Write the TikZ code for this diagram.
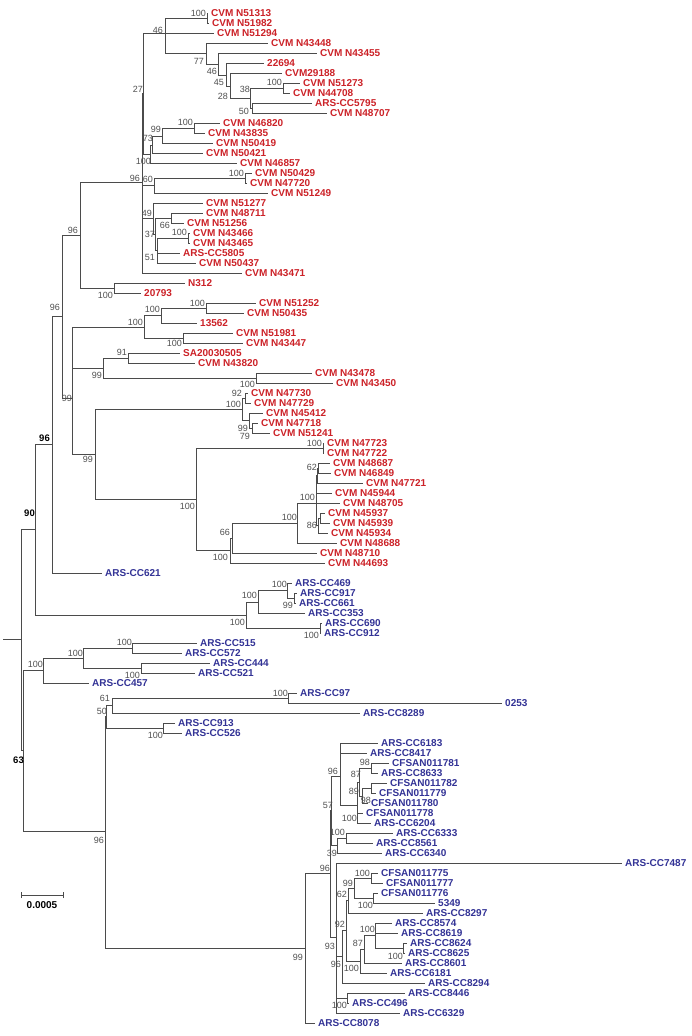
\documentclass[tikz,border=0pt]{standalone}
\usepackage{fontspec}
\setmainfont{Liberation Sans}
\definecolor{rd}{RGB}{204,34,40}
\definecolor{bl}{RGB}{51,51,150}
\definecolor{ln}{RGB}{75,75,75}
\definecolor{bsc}{RGB}{80,80,80}
\newcommand\TLeaf[5]{\coordinate (#1) at (#2,#3); \node[#5] (#1t) at (#2+3,#3) {#4};}
\newcommand\TNode[3]{\coordinate (#1) at (#2,#3);}
\newcommand\TEdges[2]{\foreach \c in {#2}{\draw[branch] (#1) |- (\c);}}
\newcommand\TBoot[5][bsl]{\node[#1] (bs#2) at (#3,#4) {#5};}
\begin{document}
\begin{tikzpicture}[x=1pt,y=-1pt,
 branch/.style={draw=ln,line width=0.85pt},
 leafR/.style={anchor=west,inner sep=0pt,text=rd,font=\fontsize{10}{12}\selectfont\bfseries},
 leafB/.style={anchor=west,inner sep=0pt,text=bl,font=\fontsize{10}{12}\selectfont\bfseries},
 bsl/.style={anchor=east,inner sep=0pt,text=bsc,font=\fontsize{9}{10}\selectfont},
 bsb/.style={anchor=east,inner sep=0pt,text=black,font=\fontsize{9.5}{10}\selectfont\bfseries}]
\useasboundingbox[fill=white] (0,0) rectangle (691,1036);
% ---------------- leaves ----------------
\TLeaf{L1}{208}{13}{CVM N51313}{leafR}
\TLeaf{L2}{209}{23}{CVM N51982}{leafR}
\TLeaf{L3}{214}{33}{CVM N51294}{leafR}
\TLeaf{L4}{268}{43}{CVM N43448}{leafR}
\TLeaf{L5}{317}{53}{CVM N43455}{leafR}
\TLeaf{L6}{264}{63}{22694}{leafR}
\TLeaf{L7}{282}{73}{CVM29188}{leafR}
\TLeaf{L8}{300}{83}{CVM N51273}{leafR}
\TLeaf{L9}{290}{93}{CVM N44708}{leafR}
\TLeaf{L10}{312}{103}{ARS-CC5795}{leafR}
\TLeaf{L11}{327}{113}{CVM N48707}{leafR}
\TLeaf{L12}{220}{123}{CVM N46820}{leafR}
\TLeaf{L13}{205}{133}{CVM N43835}{leafR}
\TLeaf{L14}{213}{143}{CVM N50419}{leafR}
\TLeaf{L15}{203}{153}{CVM N50421}{leafR}
\TLeaf{L16}{237}{163}{CVM N46857}{leafR}
\TLeaf{L17}{252}{173}{CVM N50429}{leafR}
\TLeaf{L18}{247}{183}{CVM N47720}{leafR}
\TLeaf{L19}{268}{193}{CVM N51249}{leafR}
\TLeaf{L20}{203}{203}{CVM N51277}{leafR}
\TLeaf{L21}{203}{213}{CVM N48711}{leafR}
\TLeaf{L22}{184}{223}{CVM N51256}{leafR}
\TLeaf{L23}{190}{233}{CVM N43466}{leafR}
\TLeaf{L24}{190}{243}{CVM N43465}{leafR}
\TLeaf{L25}{180}{253}{ARS-CC5805}{leafR}
\TLeaf{L26}{196}{263}{CVM N50437}{leafR}
\TLeaf{L27}{242}{273}{CVM N43471}{leafR}
\TLeaf{L28}{185}{283}{N312}{leafR}
\TLeaf{L29}{141}{293}{20793}{leafR}
\TLeaf{L30}{256}{303}{CVM N51252}{leafR}
\TLeaf{L31}{244}{313}{CVM N50435}{leafR}
\TLeaf{L32}{197}{323}{13562}{leafR}
\TLeaf{L33}{233}{333}{CVM N51981}{leafR}
\TLeaf{L34}{243}{343}{CVM N43447}{leafR}
\TLeaf{L35}{180}{353}{SA20030505}{leafR}
\TLeaf{L36}{195}{363}{CVM N43820}{leafR}
\TLeaf{L37}{312}{373}{CVM N43478}{leafR}
\TLeaf{L38}{333}{383}{CVM N43450}{leafR}
\TLeaf{L39}{248}{393}{CVM N47730}{leafR}
\TLeaf{L40}{251}{403}{CVM N47729}{leafR}
\TLeaf{L41}{263}{413}{CVM N45412}{leafR}
\TLeaf{L42}{258}{423}{CVM N47718}{leafR}
\TLeaf{L43}{270}{433}{CVM N51241}{leafR}
\TLeaf{L44}{324}{443}{CVM N47723}{leafR}
\TLeaf{L45}{324}{453}{CVM N47722}{leafR}
\TLeaf{L46}{330}{463}{CVM N48687}{leafR}
\TLeaf{L47}{331}{473}{CVM N46849}{leafR}
\TLeaf{L48}{363}{483}{CVM N47721}{leafR}
\TLeaf{L49}{332}{493}{CVM N45944}{leafR}
\TLeaf{L50}{340}{503}{CVM N48705}{leafR}
\TLeaf{L51}{325}{513}{CVM N45937}{leafR}
\TLeaf{L52}{330}{523}{CVM N45939}{leafR}
\TLeaf{L53}{328}{533}{CVM N45934}{leafR}
\TLeaf{L54}{337}{543}{CVM N48688}{leafR}
\TLeaf{L55}{317}{553}{CVM N48710}{leafR}
\TLeaf{L56}{325}{563}{CVM N44693}{leafR}
\TLeaf{L57}{102}{573}{ARS-CC621}{leafB}
\TLeaf{L58}{292}{583}{ARS-CC469}{leafB}
\TLeaf{L59}{297}{593}{ARS-CC917}{leafB}
\TLeaf{L60}{296}{603}{ARS-CC661}{leafB}
\TLeaf{L61}{305}{613}{ARS-CC353}{leafB}
\TLeaf{L62}{322}{623}{ARS-CC690}{leafB}
\TLeaf{L63}{321}{633}{ARS-CC912}{leafB}
\TLeaf{L64}{197}{643}{ARS-CC515}{leafB}
\TLeaf{L65}{182}{653}{ARS-CC572}{leafB}
\TLeaf{L66}{210}{663}{ARS-CC444}{leafB}
\TLeaf{L67}{195}{673}{ARS-CC521}{leafB}
\TLeaf{L68}{89}{683}{ARS-CC457}{leafB}
\TLeaf{L69}{297}{693}{ARS-CC97}{leafB}
\TLeaf{L70}{502}{703}{0253}{leafB}
\TLeaf{L71}{360}{713}{ARS-CC8289}{leafB}
\TLeaf{L72}{175}{723}{ARS-CC913}{leafB}
\TLeaf{L73}{182}{733}{ARS-CC526}{leafB}
\TLeaf{L74}{378}{743}{ARS-CC6183}{leafB}
\TLeaf{L75}{367}{753}{ARS-CC8417}{leafB}
\TLeaf{L76}{389}{763}{CFSAN011781}{leafB}
\TLeaf{L77}{378}{773}{ARS-CC8633}{leafB}
\TLeaf{L78}{387}{783}{CFSAN011782}{leafB}
\TLeaf{L79}{376}{793}{CFSAN011779}{leafB}
\TLeaf{L80}{368}{803}{CFSAN011780}{leafB}
\TLeaf{L81}{363}{813}{CFSAN011778}{leafB}
\TLeaf{L82}{371}{823}{ARS-CC6204}{leafB}
\TLeaf{L83}{393}{833}{ARS-CC6333}{leafB}
\TLeaf{L84}{373}{843}{ARS-CC8561}{leafB}
\TLeaf{L85}{382}{853}{ARS-CC6340}{leafB}
\TLeaf{L86}{622}{863}{ARS-CC7487}{leafB}
\TLeaf{L87}{378}{873}{CFSAN011775}{leafB}
\TLeaf{L88}{383}{883}{CFSAN011777}{leafB}
\TLeaf{L89}{378}{893}{CFSAN011776}{leafB}
\TLeaf{L90}{435}{903}{5349}{leafB}
\TLeaf{L91}{423}{913}{ARS-CC8297}{leafB}
\TLeaf{L92}{392}{923}{ARS-CC8574}{leafB}
\TLeaf{L93}{398}{933}{ARS-CC8619}{leafB}
\TLeaf{L94}{407}{943}{ARS-CC8624}{leafB}
\TLeaf{L95}{405}{953}{ARS-CC8625}{leafB}
\TLeaf{L96}{402}{963}{ARS-CC8601}{leafB}
\TLeaf{L97}{387}{973}{ARS-CC6181}{leafB}
\TLeaf{L98}{425}{983}{ARS-CC8294}{leafB}
\TLeaf{L99}{405}{993}{ARS-CC8446}{leafB}
\TLeaf{L100}{349}{1003}{ARS-CC496}{leafB}
\TLeaf{L101}{400}{1013}{ARS-CC6329}{leafB}
\TLeaf{L102}{315}{1023}{ARS-CC8078}{leafB}
% ---------------- internal nodes ----------------
\TNode{P1}{207}{18} \TNode{X}{165}{33} \TNode{C77}{206}{53} \TNode{n46b}{218}{64}
\TNode{n45}{226}{75} \TNode{n28}{230}{86} \TNode{n38}{250}{98} \TNode{p273}{283}{88}
\TNode{n50a}{252}{108} \TNode{pA}{194}{128} \TNode{n99a}{162}{136} \TNode{n73}{152}{145}
\TNode{n100a}{150}{154} \TNode{n27}{143}{93} \TNode{pB}{245}{178} \TNode{n60}{154}{185}
\TNode{n66a}{171}{218} \TNode{pC}{188}{238} \TNode{n51}{157}{250} \TNode{n37}{155}{234}
\TNode{n49}{153}{218} \TNode{n96a}{142}{182} \TNode{pD}{114}{288} \TNode{n96b}{80}{235}
\TNode{pE}{206}{308} \TNode{n100p}{161}{315} \TNode{pF}{183}{338} \TNode{n100q}{144}{327}
\TNode{n91}{128}{358} \TNode{p478}{256}{378} \TNode{n99b}{103}{368} \TNode{n92a}{245}{398}
\TNode{n79}{252}{428} \TNode{n99c}{249}{420} \TNode{n100r}{242}{409} \TNode{p723}{323}{448}
\TNode{pG}{318}{468} \TNode{n62a}{317}{475} \TNode{pH}{320}{518} \TNode{n86}{318}{525}
\TNode{n100f}{316}{503} \TNode{n100c}{297}{523} \TNode{n66b}{232}{538} \TNode{n100e}{230}{550}
\TNode{n100big}{196}{499} \TNode{n99d}{95}{454} \TNode{n99top}{72}{398} \TNode{n96c}{62}{316}
\TNode{n96bold}{52}{444} \TNode{p917}{294}{598} \TNode{n100s}{287}{590} \TNode{n100t}{258}{602}
\TNode{p690}{320}{628} \TNode{n100u}{246}{615} \TNode{n90}{35}{529} \TNode{p515}{132}{648}
\TNode{p444}{141}{668} \TNode{n100v}{83}{658} \TNode{n100w}{43}{670} \TNode{p97}{288}{698}
\TNode{n61}{112}{705} \TNode{p913}{163}{728} \TNode{n50b}{106}{716}
\TNode{n98a}{371}{768} \TNode{n98b}{371}{788} \TNode{n89}{362}{796} \TNode{n87}{359}{782}
\TNode{n100x}{357}{805} \TNode{n96f}{340}{776} \TNode{p333}{346}{838} \TNode{n39}{337}{845}
\TNode{n57}{331}{810} \TNode{p775}{371}{878} \TNode{p5349}{373}{898} \TNode{n99e}{354}{888}
\TNode{n62b}{348}{900} \TNode{p624}{403}{948} \TNode{n100y}{375}{935} \TNode{n87b}{364}{949}
\TNode{n100z}{360}{961} \TNode{n92b}{346}{930} \TNode{n96g}{342}{956} \TNode{p496}{347}{998}
\TNode{n93}{336}{937} \TNode{n96e}{330}{873} \TNode{n99f}{305}{948} \TNode{n96d}{105}{831}
\TNode{n63}{23}{750} \TNode{root}{21}{639} \TNode{stub}{3}{639}
% ---------------- branches ----------------
\TEdges{P1}{L1,L2}
\TEdges{X}{P1,L3,C77}
\TEdges{C77}{L4,n46b}
\TEdges{n46b}{L5,n45}
\TEdges{n45}{L6,n28}
\TEdges{n28}{L7,n38}
\TEdges{n38}{p273,n50a}
\TEdges{p273}{L8,L9}
\TEdges{n50a}{L10,L11}
\TEdges{pA}{L12,L13}
\TEdges{n99a}{pA,L14}
\TEdges{n73}{n99a,L15}
\TEdges{n100a}{n73,L16}
\TEdges{n27}{X,n100a}
\TEdges{pB}{L17,L18}
\TEdges{n60}{pB,L19}
\TEdges{n66a}{L21,L22}
\TEdges{pC}{L23,L24}
\TEdges{n51}{pC,L25,L26}
\TEdges{n37}{n66a,n51}
\TEdges{n49}{L20,n37}
\TEdges{n96a}{n27,n60,n49,L27}
\TEdges{pD}{L28,L29}
\TEdges{n96b}{n96a,pD}
\TEdges{pE}{L30,L31}
\TEdges{n100p}{pE,L32}
\TEdges{pF}{L33,L34}
\TEdges{n100q}{n100p,pF}
\TEdges{n91}{L35,L36}
\TEdges{p478}{L37,L38}
\TEdges{n99b}{n91,p478}
\TEdges{n92a}{L39,L40}
\TEdges{n79}{L42,L43}
\TEdges{n99c}{L41,n79}
\TEdges{n100r}{n92a,n99c}
\TEdges{p723}{L44,L45}
\TEdges{pG}{L46,L47}
\TEdges{n62a}{pG,L48}
\TEdges{pH}{L51,L52}
\TEdges{n86}{pH,L53}
\TEdges{n100f}{n62a,L49,L50,n86}
\TEdges{n100c}{n100f,L54}
\TEdges{n66b}{n100c,L55}
\TEdges{n100e}{n66b,L56}
\TEdges{n100big}{p723,n100e}
\TEdges{n99d}{n100r,n100big}
\TEdges{n99top}{n100q,n99b,n99d}
\TEdges{n96c}{n96b,n99top}
\TEdges{n96bold}{n96c,L57}
\TEdges{p917}{L59,L60}
\TEdges{n100s}{L58,p917}
\TEdges{n100t}{n100s,L61}
\TEdges{p690}{L62,L63}
\TEdges{n100u}{n100t,p690}
\TEdges{n90}{n96bold,n100u}
\TEdges{p515}{L64,L65}
\TEdges{p444}{L66,L67}
\TEdges{n100v}{p515,p444}
\TEdges{n100w}{n100v,L68}
\TEdges{p97}{L69,L70}
\TEdges{n61}{p97,L71}
\TEdges{p913}{L72,L73}
\TEdges{n50b}{n61,p913}
\TEdges{n98a}{L76,L77}
\TEdges{n98b}{L78,L79}
\TEdges{n89}{n98b,L80}
\TEdges{n87}{n98a,n89}
\TEdges{n100x}{n87,L81,L82}
\TEdges{n96f}{L74,L75,n100x}
\TEdges{p333}{L83,L84}
\TEdges{n39}{p333,L85}
\TEdges{n57}{n96f,n39}
\TEdges{p775}{L87,L88}
\TEdges{p5349}{L89,L90}
\TEdges{n99e}{p775,p5349}
\TEdges{n62b}{n99e,L91}
\TEdges{p624}{L94,L95}
\TEdges{n100y}{L92,L93,p624}
\TEdges{n87b}{n100y,L96}
\TEdges{n100z}{n87b,L97}
\TEdges{n92b}{n62b,n100z}
\TEdges{n96g}{n92b,L98}
\TEdges{p496}{L99,L100}
\TEdges{n93}{L86,n96g,p496,L101}
\TEdges{n96e}{n57,n93}
\TEdges{n99f}{n96e,L102}
\TEdges{n96d}{n50b,n99f}
\TEdges{n63}{n100w,n96d}
\TEdges{root}{n90,n63}
\draw[branch] (stub) -- (root);
% ---------------- bootstrap values ----------------
\TBoot{P1}{206}{13}{100} \TBoot{X}{163}{30}{46} \TBoot{C77}{204}{61}{77}
\TBoot{n46b}{217}{71}{46} \TBoot{n45}{224}{82}{45} \TBoot{n28}{228}{96}{28}
\TBoot{n38}{250}{89}{38} \TBoot{p273}{282}{82}{100} \TBoot{n50a}{249}{111}{50}
\TBoot{pA}{193}{122}{100} \TBoot{n99a}{161}{129}{99} \TBoot{n73}{153}{138}{73}
\TBoot{n100a}{151}{161}{100} \TBoot{n27}{143}{89}{27} \TBoot{n96a}{140}{178}{96}
\TBoot{n60}{153}{179}{60} \TBoot{pB}{244}{173}{100} \TBoot{n49}{152}{213}{49}
\TBoot{n66a}{170}{225}{66} \TBoot{n37}{155}{234}{37} \TBoot{pC}{187}{232}{100}
\TBoot{n51}{155}{257}{51} \TBoot{n96b}{78}{230}{96} \TBoot{pD}{113}{295}{100}
\TBoot{pE}{205}{303}{100} \TBoot{n100p}{160}{309}{100} \TBoot{n100q}{143}{322}{100}
\TBoot{pF}{182}{343}{100} \TBoot{n91}{127}{352}{91} \TBoot{n99b}{102}{375}{99}
\TBoot{p478}{255}{384}{100} \TBoot{n92a}{242}{393}{92} \TBoot{n100r}{241}{404}{100}
\TBoot{n99c}{248}{428}{99} \TBoot{n79}{250}{436}{79} \TBoot{p723}{322}{443}{100}
\TBoot{n62a}{317}{467}{62} \TBoot{n100f}{315}{497}{100} \TBoot{n86}{317}{525}{86}
\TBoot{n100c}{297}{517}{100} \TBoot{n66b}{230}{532}{66} \TBoot{n100e}{228}{557}{100}
\TBoot{n100big}{195}{506}{100} \TBoot{n99d}{93}{459}{99} \TBoot{n99top}{72}{398}{99}
\TBoot{n96c}{60}{307}{96} \TBoot[bsb]{n96bold}{50}{438}{96} \TBoot[bsb]{n90}{35}{513}{90}
\TBoot{n100s}{287}{584}{100} \TBoot{p917}{293}{605}{99} \TBoot{n100t}{257}{595}{100}
\TBoot{p690}{319}{635}{100} \TBoot{n100u}{245}{622}{100} \TBoot{n100w}{43}{664}{100}
\TBoot{n100v}{83}{653}{100} \TBoot{p515}{132}{642}{100} \TBoot{p444}{140}{675}{100}
\TBoot[bsb]{n63}{24}{760}{63} \TBoot{n61}{110}{698}{61} \TBoot{n50b}{107}{711}{50}
\TBoot{p97}{288}{693}{100} \TBoot{p913}{163}{735}{100} \TBoot{n96d}{104}{840}{96}
\TBoot{n99f}{303}{957}{99} \TBoot{n96e}{330}{868}{96} \TBoot{n96f}{338}{771}{96}
\TBoot{n57}{333}{805}{57} \TBoot{n39}{337}{853}{39} \TBoot{n98a}{370}{762}{98}
\TBoot{n87}{361}{774}{87} \TBoot{n89}{359}{791}{89} \TBoot{n98b}{371}{800}{98}
\TBoot{n100x}{357}{818}{100} \TBoot{p333}{345}{832}{100} \TBoot{p775}{370}{873}{100}
\TBoot{n99e}{353}{883}{99} \TBoot{n62b}{347}{894}{62} \TBoot{p5349}{373}{905}{100}
\TBoot{n92b}{345}{924}{92} \TBoot{n100y}{375}{929}{100} \TBoot{n87b}{363}{943}{87}
\TBoot{p624}{403}{956}{100} \TBoot{n93}{335}{946}{93} \TBoot{n100z}{359}{968}{100}
\TBoot{n96g}{341}{964}{96} \TBoot{p496}{347}{1005}{100}
% ---------------- scale bar ----------------
\coordinate (sbA) at (21,895); \coordinate (sbB) at (63,895);
\draw[branch] (sbA) -- (sbB);
\draw[branch] ([yshift=-3pt]sbA) -- ([yshift=3pt]sbA);
\draw[branch] ([yshift=-3pt]sbB) -- ([yshift=3pt]sbB);
\node[inner sep=0pt,font=\fontsize{10}{12}\selectfont\bfseries] (sbL) at (42,905) {0.0005};
\end{tikzpicture}
\end{document}
